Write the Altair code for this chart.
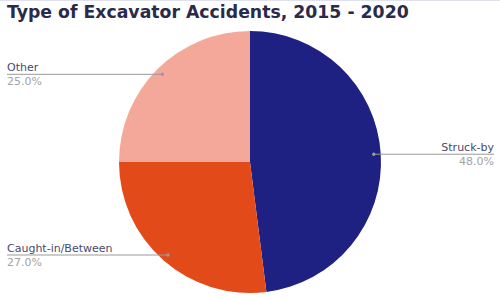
import altair as alt
import pandas as pd

categories = ["Struck-by", "Caught-in/Between", "Other"]
values = [48.0, 27.0, 25.0]
colors = ["#1e2181", "#e34a1a", "#f4a89a"]
order = [0, 1, 2]
title_text = "Type of Excavator Accidents, 2015 - 2020"

df = pd.DataFrame({"category": categories, "value": values, "ord": order})

W, H = 500, 262
CX, CY = W / 2, H / 2
R = 131
RL = 124

base = alt.Chart(df)

arc = base.mark_arc(radius=R, stroke=None).encode(
    theta=alt.Theta("value:Q", stack=True),
    color=alt.Color("category:N", scale=alt.Scale(domain=categories, range=colors), legend=None),
    order=alt.Order("ord:Q", sort="ascending"),
)

geo = base.transform_window(
    cum="sum(value)", sort=[alt.SortField("ord", order="ascending")], frame=[None, 0]
).transform_joinaggregate(
    total="sum(value)"
).transform_calculate(
    mid="(datum.cum - datum.value/2) / datum.total * 2 * PI",
).transform_calculate(
    px=f"{CX} + {RL} * sin(datum.mid)",
    py=f"{CY} - {RL} * cos(datum.mid)",
    side="sin(datum.mid) < 0 ? 'left' : 'right'",
    pct="format(datum.value, '.1f') + '%'",
).transform_calculate(
    xe="datum.side == 'left' ? 7 : 494",
)

rule = geo.mark_rule(color="#9a9a9a", strokeWidth=1).encode(
    x=alt.X("px:Q", scale=None),
    x2="xe:Q",
    y=alt.Y("py:Q", scale=None),
)

pts = geo.mark_circle(color="#9a9a9a", size=12, opacity=1).encode(
    x=alt.X("px:Q", scale=None),
    y=alt.Y("py:Q", scale=None),
)

left = geo.transform_filter("datum.side == 'left'")
right = geo.transform_filter("datum.side == 'right'")

def labels(src, align):
    name = src.mark_text(align=align, baseline="alphabetic", dy=-3, font="DejaVu Sans",
                         fontSize=11, color="#4a4a6e").encode(
        x=alt.X("xe:Q", scale=None), y=alt.Y("py:Q", scale=None), text="category:N")
    pct = src.mark_text(align=align, baseline="top", dy=2, font="DejaVu Sans",
                        fontSize=11, color="#a3a3a3").encode(
        x=alt.X("xe:Q", scale=None), y=alt.Y("py:Q", scale=None), text="pct:N")
    return name + pct

one = pd.DataFrame({"t": [title_text]})

border = alt.Chart(one).mark_rule(color="#dfe1ee", strokeWidth=1).encode(
    x=alt.value(0), x2=alt.value(500), y=alt.value(-30.5)
)

title = alt.Chart(one).mark_text(
    align="left", baseline="alphabetic", font="DejaVu Sans", fontSize=17.3,
    fontWeight="bold", color="#2a2a4a"
).encode(x=alt.value(7), y=alt.value(-13), text="t:N")

chart = alt.layer(
    arc, rule, pts, labels(left, "left"), labels(right, "right"), border, title
).properties(
    width=W,
    height=H,
    autosize=alt.AutoSizeParams(type="none"),
    padding={"left": 0, "top": 31, "right": 0, "bottom": 4},
).configure_view(stroke=None)

chart.save("out.html", embed_options={"renderer": "svg", "actions": False})
